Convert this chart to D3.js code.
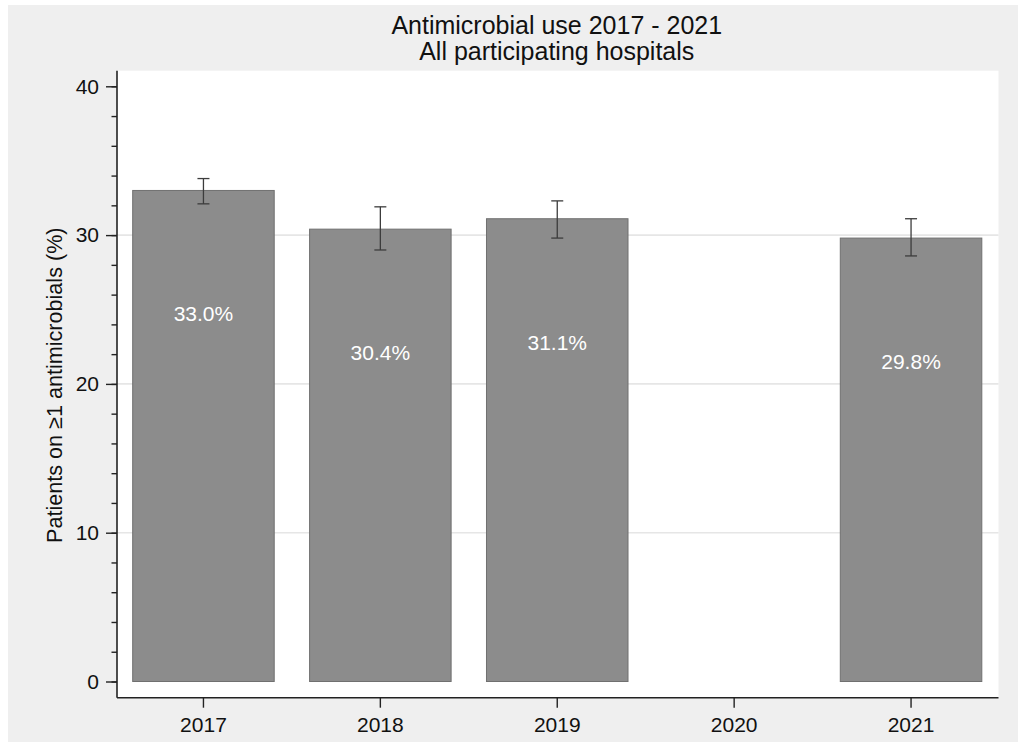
<!DOCTYPE html>
<html>
<head>
<meta charset="utf-8">
<script src="https://cdn.jsdelivr.net/npm/d3@7"></script>
<style>
  html, body { margin: 0; padding: 0; background: #ffffff; }
  svg { display: block; font-family: "Liberation Sans", Arial, Helvetica, sans-serif; }
</style>
</head>
<body>
<svg id="chart" width="1018" height="742"></svg>
<script>
// Survey years and the share of patients on at least one antimicrobial
const years = ["2017", "2018", "2019", "2020", "2021"];
const usePct = [33.0, 30.4, 31.1, null, 29.8];
const ciLow = [32.1, 29.0, 29.8, null, 28.6];
const ciHigh = [33.8, 31.9, 32.3, null, 31.1];
const yTicks = [0, 10, 20, 30, 40];
const yMinorTicks = d3.range(0, 40.01, 2);
const gridValues = [10, 20, 30];
const titleLines = ["Antimicrobial use 2017 - 2021", "All participating hospitals"];
const yTitle = "Patients on \u22651 antimicrobials (%)";

const svg = d3.select("#chart");
const W = 1018, H = 742;

// Outer graph region
svg.append("rect").attr("x", 8).attr("y", 5).attr("width", W - 8).attr("height", H - 5)
  .attr("fill", "#efefef");

const plot = { left: 117, right: 998.5, top: 70.7, bottom: 697.7 };
svg.append("rect")
  .attr("x", plot.left).attr("y", plot.top)
  .attr("width", plot.right - plot.left).attr("height", plot.bottom - plot.top)
  .attr("fill", "#ffffff");

const x = d3.scaleBand().domain(years).range([115, 999.5])
  .paddingInner(0.2).paddingOuter(0.1);
const y = d3.scaleLinear().domain([0, 40]).range([681.5, 86.3]);

// Horizontal grid lines
svg.append("g").selectAll("line").data(gridValues).join("line")
  .attr("x1", plot.left).attr("x2", plot.right)
  .attr("y1", d => y(d)).attr("y2", d => y(d))
  .attr("stroke", "#e6e6e6").attr("stroke-width", 1.6);

const rows = years.map((yr, i) => ({ yr, v: usePct[i], lo: ciLow[i], hi: ciHigh[i] }))
  .filter(d => d.v !== null);

// Bars
svg.append("g").selectAll("rect").data(rows).join("rect")
  .attr("x", d => x(d.yr)).attr("width", x.bandwidth())
  .attr("y", d => y(d.v)).attr("height", d => y(0) - y(d.v))
  .attr("fill", "#8c8c8c").attr("stroke", "#707070").attr("stroke-width", 1);

// Confidence interval whiskers
const ci = svg.append("g").attr("stroke", "#3c3c3c").attr("stroke-width", 1.3).attr("fill", "none");
const cx = d => x(d.yr) + x.bandwidth() / 2;
ci.selectAll("line.stem").data(rows).join("line").attr("class", "stem")
  .attr("x1", cx).attr("x2", cx).attr("y1", d => y(d.lo)).attr("y2", d => y(d.hi));
ci.selectAll("line.capHi").data(rows).join("line").attr("class", "capHi")
  .attr("x1", d => cx(d) - 6).attr("x2", d => cx(d) + 6).attr("y1", d => y(d.hi)).attr("y2", d => y(d.hi));
ci.selectAll("line.capLo").data(rows).join("line").attr("class", "capLo")
  .attr("x1", d => cx(d) - 6).attr("x2", d => cx(d) + 6).attr("y1", d => y(d.lo)).attr("y2", d => y(d.lo));

// Value labels inside bars
svg.append("g").selectAll("text").data(rows).join("text")
  .attr("x", cx).attr("y", d => y(d.v) + 131)
  .attr("text-anchor", "middle").attr("font-size", 21).attr("fill", "#ffffff")
  .text(d => d.v.toFixed(1) + "%");

// Y axis
const yAxisG = svg.append("g").attr("transform", `translate(${plot.left},0)`);
yAxisG.append("line").attr("x1", 0).attr("x2", 0).attr("y1", plot.top).attr("y2", plot.bottom)
  .attr("stroke", "#222").attr("stroke-width", 1.6);
yAxisG.call(d3.axisLeft(y).tickValues(yMinorTicks).tickSize(5.5).tickFormat(""))
  .call(g => g.select(".domain").remove())
  .call(g => g.selectAll(".tick line").attr("stroke", "#222").attr("stroke-width", 1.4));
const yMajor = svg.append("g").attr("transform", `translate(${plot.left},0)`)
  .call(d3.axisLeft(y).tickValues(yTicks).tickSize(11).tickPadding(7).tickFormat(d3.format("d")));
yMajor.select(".domain").remove();
yMajor.selectAll(".tick line").attr("stroke", "#222").attr("stroke-width", 1.4);
yMajor.selectAll(".tick text").attr("font-size", 21).attr("fill", "#111")
  .attr("font-family", "Liberation Sans, Arial, sans-serif");

// X axis
const xAxisG = svg.append("g").attr("transform", `translate(0,${plot.bottom})`);
xAxisG.append("line").attr("x1", plot.left).attr("x2", plot.right).attr("y1", 0).attr("y2", 0)
  .attr("stroke", "#222").attr("stroke-width", 1.6);
xAxisG.call(d3.axisBottom(x).tickSize(10).tickPadding(9))
  .call(g => g.select(".domain").remove())
  .call(g => g.selectAll(".tick line").attr("stroke", "#222").attr("stroke-width", 1.4))
  .call(g => g.selectAll(".tick text").attr("font-size", 21).attr("fill", "#111")
    .attr("font-family", "Liberation Sans, Arial, sans-serif"));

// Y axis title
svg.append("text")
  .attr("transform", `translate(62,${(plot.top + plot.bottom) / 2 + 1}) rotate(-90)`)
  .attr("text-anchor", "middle").attr("font-size", 21.6).attr("fill", "#111")
  .text(yTitle);

// Chart title
const cxTitle = (plot.left + plot.right) / 2 - 1;
svg.append("g").selectAll("text").data(titleLines).join("text")
  .attr("x", cxTitle).attr("y", (d, i) => 34 + i * 26)
  .attr("text-anchor", "middle").attr("font-size", 25).attr("fill", "#111")
  .text(d => d);
</script>
</body>
</html>
